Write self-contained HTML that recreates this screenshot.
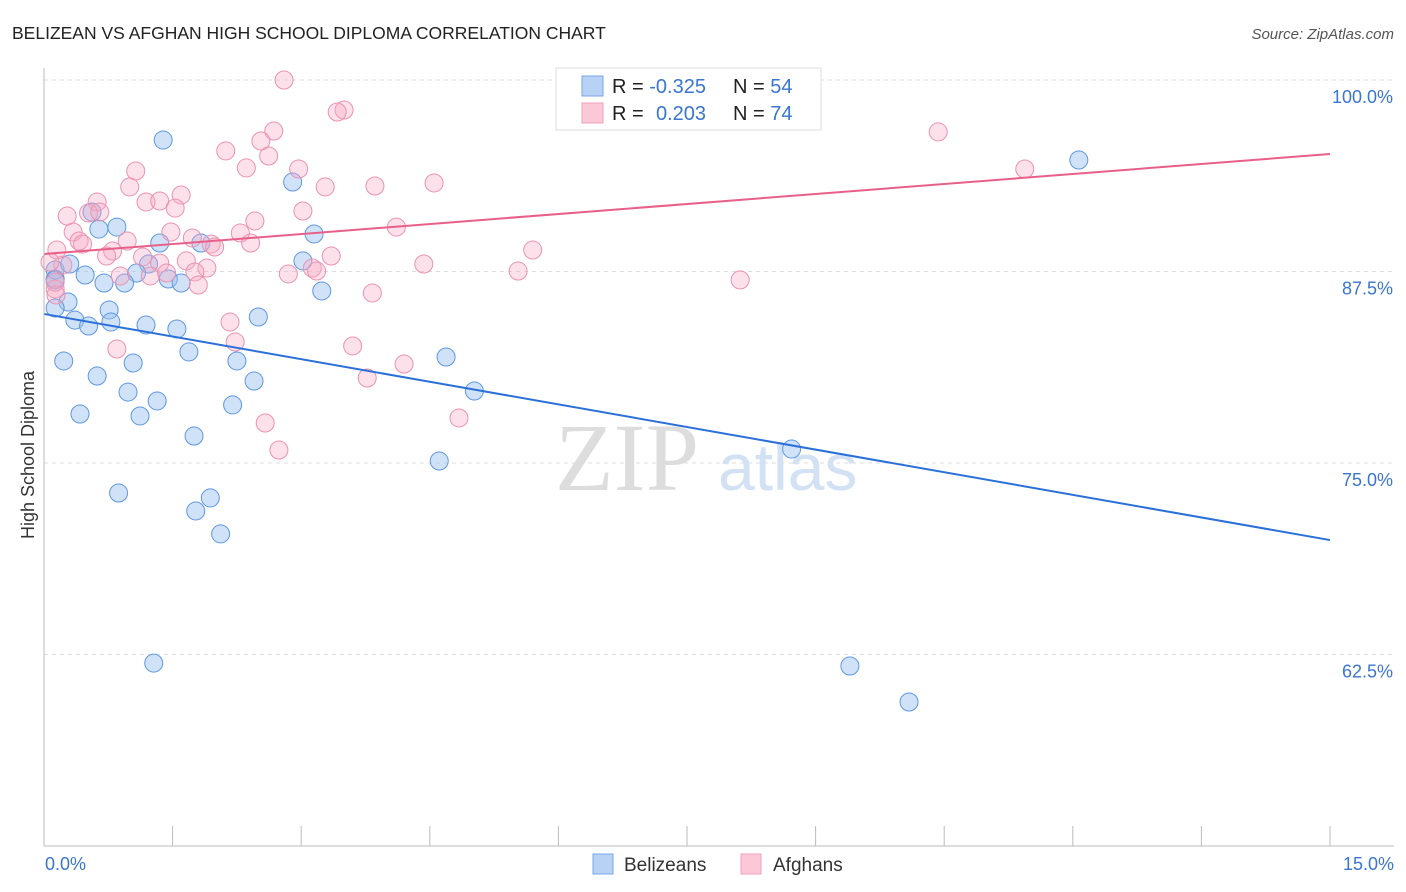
<!DOCTYPE html>
<html><head><meta charset="utf-8"><style>
body{margin:0;background:#fff;font-family:"Liberation Sans",sans-serif}
svg{display:block}
</style></head><body>
<svg id="chart" width="1406" height="892" xmlns="http://www.w3.org/2000/svg">
<text x="12" y="39" font-size="17.5" fill="#222">BELIZEAN VS AFGHAN HIGH SCHOOL DIPLOMA CORRELATION CHART</text>
<text x="1394" y="39" font-size="15" fill="#555" font-style="italic" text-anchor="end">Source: ZipAtlas.com</text>
<g id="grid"></g>
<text x="555" y="490" font-size="96" fill="#ddd" font-family="Liberation Serif,serif">ZIP</text>
<text x="718" y="490" font-size="66" fill="#d3e1f4">atlas</text>
<g id="pts"></g>
<g id="lines"></g>
<line x1="44" y1="68" x2="44" y2="846" stroke="#bbb"/>
<line x1="44" y1="846" x2="1394" y2="846" stroke="#bbb"/>
<text transform="translate(34,455) rotate(-90)" font-size="18" fill="#333" text-anchor="middle">High School Diploma</text>
<text x="45" y="870" font-size="18" fill="#3a75d0">0.0%</text>
<text x="1394" y="870" font-size="18" fill="#3a75d0" text-anchor="end">15.0%</text>
<g>
<rect x="556" y="68" width="265" height="62" fill="#fff" stroke="#ddd"/>
<rect x="582" y="76" width="21" height="20" fill="#b8d2f6" stroke="#7aa6e6"/>
<rect x="582" y="103" width="21" height="20" fill="#fbc8d8" stroke="#f0a0bc"/>
<text x="612" y="93" font-size="20" fill="#222">R = <tspan fill="#3a75d0">-0.325</tspan><tspan x="733">N = </tspan><tspan fill="#3a75d0">54</tspan></text>
<text x="612" y="120" font-size="20" fill="#222">R = <tspan fill="#3a75d0" x="656">0.203</tspan><tspan x="733">N = </tspan><tspan fill="#3a75d0">74</tspan></text>
</g>
<g>
<rect x="593" y="854" width="20" height="20" fill="#b8d2f6" stroke="#7aa6e6"/>
<text x="624" y="871" font-size="19" fill="#333">Belizeans</text>
<rect x="741" y="854" width="20" height="20" fill="#fbc8d8" stroke="#f0a0bc"/>
<text x="773" y="871" font-size="19" fill="#333">Afghans</text>
</g>
</svg>
<script>
const yTicks=[100,87.5,75,62.5];
const yTickLabels=["100.0%","87.5%","75.0%","62.5%"];
const xTicks=[0,1.5,3,4.5,6,7.5,9,10.5,12,13.5,15];
const belizeX=[1.39,2.90,0.64,0.85,0.56,1.35,1.83,3.15,3.02,1.22,1.08,0.48,1.45,1.60,0.70,0.94,0.13,0.13,0.30,3.24,0.28,0.13,0.76,0.36,0.52,0.78,1.19,1.55,2.50,1.69,2.25,0.23,1.04,4.69,0.62,2.45,0.98,1.32,5.02,2.20,0.42,1.12,1.75,4.61,8.72,12.07,0.87,1.94,1.77,2.06,1.28,9.40,10.09,0.13];
const belizeY=[96.08,93.34,90.27,90.40,91.38,89.36,89.36,89.95,88.19,87.99,87.40,87.27,87.01,86.75,86.75,86.75,87.01,87.60,87.99,86.23,85.51,85.12,84.99,84.33,83.94,84.20,84.01,83.75,84.53,82.25,81.66,81.66,81.53,81.92,80.68,80.35,79.63,79.05,79.70,78.79,78.20,78.07,76.76,75.13,75.91,94.78,73.04,72.72,71.87,70.37,61.94,61.75,59.40,86.95];
const afghanX=[2.80,6.86,8.78,3.50,3.42,2.68,10.43,2.53,2.12,2.62,1.07,2.36,2.97,11.44,1.00,3.28,3.86,4.55,1.60,0.62,1.19,1.35,1.53,0.52,0.27,3.02,0.65,2.46,4.11,0.34,1.48,2.29,1.73,0.97,0.41,0.45,1.95,1.99,2.41,0.15,0.80,0.73,5.70,1.15,1.35,1.66,0.22,1.90,3.35,0.07,4.43,3.13,3.18,0.89,1.24,1.43,1.76,2.85,5.53,8.12,1.80,0.13,3.83,2.17,2.23,3.60,0.85,4.20,3.77,4.84,2.58,2.74,0.14,0.13];
const afghanY=[100,100,100,98.04,97.91,96.67,96.61,96.02,95.37,95.04,94.06,94.26,94.19,94.19,93.02,93.02,93.08,93.28,92.49,92.04,92.04,92.10,91.64,91.32,91.12,91.45,91.38,90.80,90.40,90.08,90.08,90.01,89.69,89.49,89.49,89.29,89.29,89.10,89.36,88.90,88.84,88.51,88.90,88.45,88.05,88.19,87.92,87.73,88.51,88.12,87.99,87.73,87.53,87.21,87.21,87.40,87.47,87.34,87.53,86.95,86.62,86.36,86.10,84.20,82.90,82.64,82.44,81.46,80.55,77.94,77.61,75.85,85.97,86.81];
const belizeTrend=[84.73,69.97];
const afghanTrend=[88.64,95.17];
const trendX=[0,15];

const sx=v=>44+v/15*1286;
const sy=v=>80+(100-v)/12.5*191.5;
const NS="http://www.w3.org/2000/svg";
function mk(tag,attrs,parent){const e=document.createElementNS(NS,tag);for(const k in attrs)e.setAttribute(k,attrs[k]);parent.appendChild(e);return e;}
const grid=document.getElementById('grid');
yTicks.forEach((t,i)=>{
  const l=mk('line',{x1:44,x2:1394,y1:sy(t),y2:sy(t),stroke:'#ddd','stroke-dasharray':'4,4'},grid);
  
  
  const tx=mk('text',{x:1393,y:sy(t)+23,'font-size':18,fill:'#3a75d0','text-anchor':'end'},grid);
  tx.textContent=yTickLabels[i];
  
  
});
xTicks.forEach(t=>{
  const l=mk('line',{x1:sx(t),x2:sx(t),y1:826,y2:846,stroke:'#bbb'},grid);
  
  
});
const pts=document.getElementById('pts');
belizeX.forEach((x,i)=>{
  const c=mk('circle',{cx:sx(x),cy:sy(belizeY[i]),r:9,fill:'rgba(150,190,240,0.45)',stroke:'#5f97e0','stroke-width':1},pts);
  
  
});
afghanX.forEach((x,i)=>{
  const c=mk('circle',{cx:sx(x),cy:sy(afghanY[i]),r:9,fill:'rgba(246,170,196,0.35)',stroke:'#eb92b2','stroke-width':1},pts);
  
  
});
const lines=document.getElementById('lines');
const bl=mk('line',{x1:sx(trendX[0]),y1:sy(belizeTrend[0]),x2:sx(trendX[1]),y2:sy(belizeTrend[1]),stroke:'#2a70d8','stroke-width':2},lines);


const al=mk('line',{x1:sx(trendX[0]),y1:sy(afghanTrend[0]),x2:sx(trendX[1]),y2:sy(afghanTrend[1]),stroke:'#e8608a','stroke-width':2},lines);


</script>
</body></html>
